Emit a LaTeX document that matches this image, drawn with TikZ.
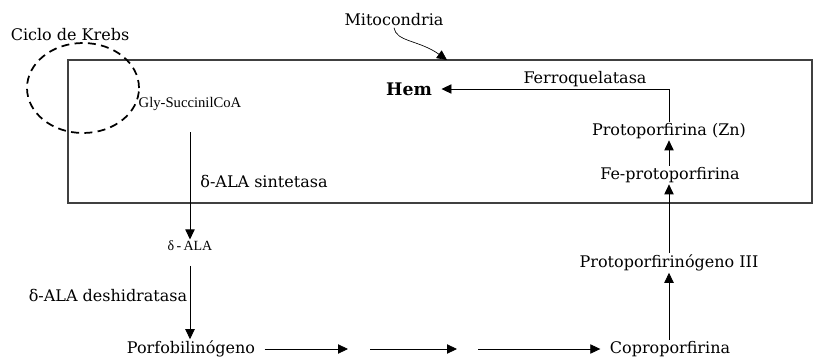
\documentclass[tikz,border=0pt]{standalone}
\usepackage{fontspec}
\setmainfont{DejaVu Serif}
\newfontfamily\smallserif{Liberation Serif}
\usetikzlibrary{arrows.meta,positioning,shapes.geometric}

\begin{document}
\begin{tikzpicture}
          [ x=0.75pt, y=-0.75pt,
            lbl/.style={
              inner sep=1pt,
              font=\fontsize{12}{14}\selectfont},
            tiny/.style={
              inner sep=1pt,
              font=\smallserif\fontsize{11}{13}\selectfont},
            wall/.style={
              draw=black!75,
              line width=0.9pt,
              inner sep=0pt},
            cycle/.style={
              ellipse,
              draw,
              dash pattern=on 6pt off 4pt,
              line width=1.3pt,
              inner sep=0pt,
              minimum width=84pt,
              minimum height=67.5pt},
            flow/.style={
              draw,
              line width=0.6pt,
              -{Triangle[length=7.5pt,width=7pt]}},
          ]
          \useasboundingbox (0,0) rectangle (813,357);

          \node (mito) [wall, minimum width=558pt, minimum height=107.25pt] at (440,131.5) {};
          \node (krebs) [cycle] at (83,88) {};

          \node (krebslbl) [lbl] at (70,35) {Ciclo de Krebs};
          \node (mitolbl) [lbl] at (394,20) {Mitocondria};
          \coordinate (mitotip) at (447,60);

          \node (gly) [tiny] at (190,104) {Gly-SuccinilCoA};
          \node (sint) [lbl] at (264,181) {δ-ALA sintetasa};
          \node (ala) [tiny, font=\smallserif\fontsize{10.5}{12}\selectfont] at (190,246) {δ\,-\,ALA};
          \node (desh) [lbl] at (108,295) {δ-ALA deshidratasa};
          \node (porfo) [lbl] at (191,349) {Porfobilinógeno};

          \coordinate (c1) at (348,349);
          \coordinate (c2) at (370,349);
          \coordinate (c3) at (457,349);
          \coordinate (c4) at (478,349);

          \node (copro) [lbl] at (670,349) {Coproporfirina};
          \node (protoIII) [lbl] at (669,263) {Protoporfirinógeno III};
          \node (fepro) [lbl] at (670,175) {Fe-protoporfirina};
          \node (protozn) [lbl] at (669,131) {Protoporfirina (Zn)};
          \node (ferro) [lbl] at (585,79) {Ferroquelatasa};
          \node (hem) [lbl, font=\fontsize{13}{15}\selectfont\bfseries] at (409,89) {Hem};

          \draw[flow, line width=0.5pt] (mitolbl.south) .. controls +(2,14) and +(-28,-20) .. (mitotip);

          \draw[flow, shorten <=15pt] (ala.north |- gly.south) -- (ala.north);
          \draw[flow, shorten <=10pt] (ala.south) -- (ala.south |- porfo.north);
          \draw[flow] ([xshift=6pt]porfo.east) -- (c1);
          \draw[flow] (c2) -- (c3);
          \draw[flow] (c4) -- ([xshift=-6pt]copro.west);
          \draw[flow] (copro.north -| protoIII.south) -- (protoIII.south);
          \draw[flow] (protoIII.north) -- (protoIII.north |- fepro.south);
          \draw[flow] (protoIII.north |- fepro.north) -- (protoIII.north |- protozn.south);
          \draw[flow] (protoIII.north |- protozn.north) |- ([xshift=6pt]hem.east);

        \end{tikzpicture}
\end{document}
